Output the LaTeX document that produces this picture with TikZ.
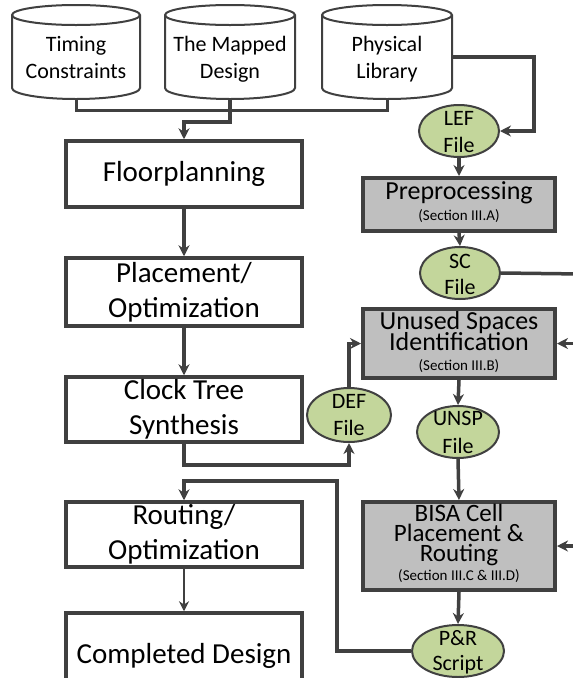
\documentclass[tikz,border=0pt]{standalone}
\usepackage{fontspec}
\setmainfont{Carlito}
\usetikzlibrary{arrows.meta,shapes.geometric}
\definecolor{ln}{HTML}{404040}
\definecolor{grayfill}{HTML}{BFBFBF}
\definecolor{olivefill}{HTML}{C3D69B}
\newcommand\mycyl[3]{%
  \draw[cylbody] (#1,15) -- (#1,88) arc[start angle=180,end angle=360,x radius=#3pt,y radius=11pt]
     -- (#2,15) arc[start angle=0,end angle=180,x radius=#3pt,y radius=10pt] -- cycle;
  \draw[cylline] (#1,15) arc[start angle=180,end angle=360,x radius=#3pt,y radius=10pt];
}
\begin{document}
\begin{tikzpicture}[x=1pt,y=-1pt,
  flowbox/.style={draw=ln, line width=3.5pt, fill=white, minimum width=236pt, inner sep=0pt,
     align=center, font=\fontsize{29}{35}\selectfont},
  graybox/.style={draw=ln, line width=4pt, fill=grayfill, minimum width=192pt, inner sep=0pt},
  ell/.style={ellipse, draw=ln, line width=2pt, fill=olivefill, inner sep=0pt},
  cylbody/.style={draw=ln, line width=2pt, fill=white},
  cylline/.style={draw=ln, line width=2pt},
  cylnode/.style={minimum width=128pt, minimum height=94pt, inner sep=0pt},
  arr/.style={draw=ln, line width=3.5pt, -{Stealth[length=11pt,width=11pt]}},
  thinarr/.style={draw=ln, line width=2.2pt, -{Stealth[length=10pt,width=10pt]}},
  conn/.style={draw=ln, line width=3.5pt},
  bigt/.style={anchor=base, inner sep=0pt, font=\fontsize{26}{26}\selectfont},
  smallt/.style={anchor=base, inner sep=0pt, font=\fontsize{15}{15}\selectfont},
  cylt/.style={anchor=base, inner sep=0pt, font=\fontsize{22}{22}\selectfont},
  ellt/.style={anchor=base, inner sep=0pt, font=\fontsize{22}{22}\selectfont}]
\useasboundingbox (0,0) rectangle (573,678);
\clip (0,0) rectangle (573,678);
\fill[white] (0,0) rectangle (573,678);

% cylinders
\mycyl{12}{140}{64}
\mycyl{165}{295}{65}
\mycyl{322}{452}{65}
\node[cylnode] (cyl1) at (76,52) {};
\node[cylnode] (cyl2) at (230,52) {};
\node[cylnode] (cyl3) at (387,52) {};
\node[cylt] (c1a) at (76,51) {Timing};
\node[cylt] (c1b) at (76,78) {Constraints};
\node[cylt] (c2a) at (230,51) {The Mapped};
\node[cylt] (c2b) at (230,78) {Design};
\node[cylt] (c3a) at (387,51) {Physical};
\node[cylt] (c3b) at (387,78) {Library};

% left flow
\node[flowbox, minimum height=66pt] (fp) at (184,174) {Floorplanning};
\node[flowbox, minimum height=68pt] (pl) at (184,292) {Placement/\\Optimization};
\node[flowbox, minimum height=65pt] (ct) at (184,409.5) {Clock Tree\\Synthesis};
\node[flowbox, minimum height=65pt] (rt) at (184,534.5) {Routing/\\Optimization};
\node[flowbox, minimum height=86pt] (cd) at (184,656) {Completed Design};

% gray boxes
\node[graybox, minimum height=53pt] (pre) at (459,204.5) {};
\node[bigt] (pre1) at (459,199) {Preprocessing};
\node[smallt] (pre2) at (459,220) {(Section III.A)};
\node[graybox, minimum height=69pt] (us) at (459,343.5) {};
\node[bigt] (us1) at (459,329) {Unused Spaces};
\node[bigt] (us2) at (459,350) {Identification};
\node[smallt] (us3) at (459,370) {(Section III.B)};
\node[graybox, minimum height=88pt] (bisa) at (459,546) {};
\node[bigt, font=\fontsize{25}{25}\selectfont] (bi1) at (459,521) {BISA Cell};
\node[bigt, font=\fontsize{25}{25}\selectfont] (bi2) at (459,541) {Placement \&};
\node[bigt, font=\fontsize{25}{25}\selectfont] (bi3) at (459,561) {Routing};
\node[smallt] (bi4) at (459,580) {(Section III.C \& III.D)};

% ellipses
\node[ell, minimum width=80pt, minimum height=52pt] (lef) at (459,131) {};
\node[ellt] (lef1) at (459,125) {LEF};
\node[ellt] (lef2) at (459,152) {File};
\node[ell, minimum width=80pt, minimum height=52pt] (sc) at (460,273) {};
\node[ellt] (sc1) at (460,268) {SC};
\node[ellt] (sc2) at (460,294) {File};
\node[ell, minimum width=84pt, minimum height=54pt] (def) at (349,415) {};
\node[ellt] (def1) at (349,408) {DEF};
\node[ellt] (def2) at (349,435) {File};
\node[ell, minimum width=82pt, minimum height=52pt] (unsp) at (458,432) {};
\node[ellt] (unsp1) at (458,425) {UNSP};
\node[ellt] (unsp2) at (458,453) {File};
\node[ell, minimum width=92pt, minimum height=52pt] (pr) at (458,651) {};
\node[ellt] (pr1) at (458,645) {P\&R};
\node[ellt] (pr2) at (458,670) {Script};

% connectors: inputs
\draw[conn, line width=3pt] (cyl1.south) |- (cyl3.south |- 0,110) -- (cyl3.south);
\draw[arr] (cyl2.south) -- ++(0,23) -| (fp.north);
\draw[arr] ([yshift=-5pt]cyl3.east) -- ++(83,0) |- (lef.east);

% left flow arrows
\draw[arr] (fp.south) -- (pl.north);
\draw[arr] (pl.south) -- (ct.north);
\draw[arr] (ct.south) -- ++(0,21) -| (def.south);
\draw[arr] (pr.west) -| (337,481) -| (rt.north);
\draw[thinarr] (rt.south) -- (cd.north);

% right flow arrows
\draw[arr] (lef.south) -- (pre.north);
\draw[arr] (pre.south) -- (sc.north);
\draw[arr] (def.north) |- (us.west);
\draw[arr] (us.south) -- (unsp.north);
\draw[arr] (unsp.south) -- (bisa.north);
\draw[arr] (bisa.south) -- (pr.north);

% SC rail on the right (runs off the picture edge)
\coordinate (railtop) at (582,274);
\coordinate (railbot) at (582,546);
\draw[conn] (sc.east) -- (railtop) -- (railbot);
\draw[arr] (railtop |- us.east) -- (us.east);
\draw[arr] (railbot) -- (bisa.east);
\end{tikzpicture}
\end{document}
